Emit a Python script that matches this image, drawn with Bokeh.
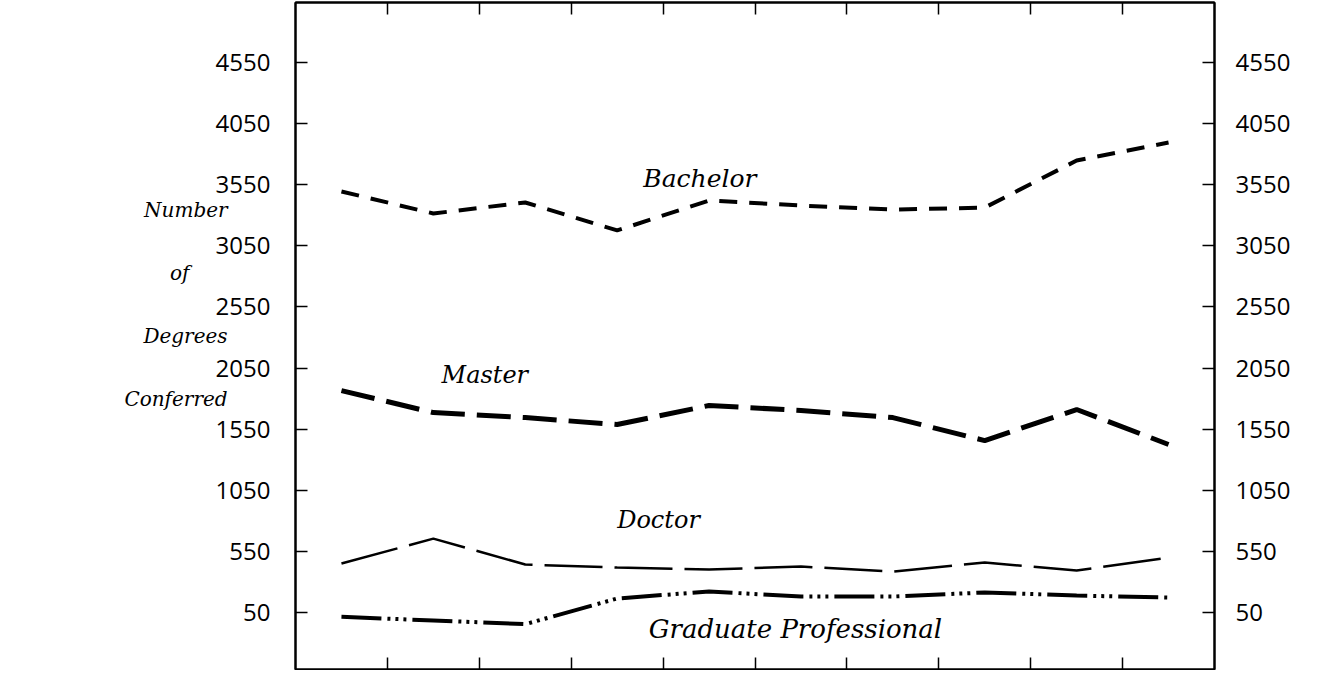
from bokeh.plotting import figure
from bokeh.models import LinearAxis, FixedTicker, Range1d
from bokeh.embed import file_html
from bokeh.resources import INLINE
from bokeh.core.properties import value

# ---- data ----
periods = list(range(10))
bachelor = [3495, 3315, 3405, 3176, 3421, 3380, 3347, 3363, 3748, 3895]
master = [1866, 1686, 1645, 1588, 1744, 1703, 1645, 1457, 1711, 1425]
doctor = [451, 655, 443, 418, 402, 426, 385, 459, 394, 500]
grad_prof = [15, -15, -45, 165, 222, 181, 181, 214, 189, 173]
y_ticks = [50, 550, 1050, 1550, 2050, 2550, 3050, 3550, 4050, 4550]
x_ticks = [1, 2, 3, 4, 5, 6, 7, 8, 9]
series_names = ["Bachelor", "Master", "Doctor", "Graduate Professional"]
y_title = ["Number", "of" + "\u00a0" * 6, "Degrees", "Conferred"]

xs = [i + 0.5 for i in periods]

p = figure(width=1304, height=670, x_range=Range1d(0, 10), y_range=Range1d(-416, 5041),
           output_backend="svg", toolbar_location=None,
           min_border_left=295, min_border_right=90, min_border_top=2, min_border_bottom=1)
p.xgrid.visible = False
p.ygrid.visible = False
p.outline_line_color = "black"
p.outline_line_width = 2
p.background_fill_color = "white"
p.border_fill_color = "white"

TICK_FONT = "Open Sans"

def style_y(ax, standoff):
    ax.ticker = FixedTicker(ticks=y_ticks)
    ax.major_tick_in = 12
    ax.major_tick_out = 0
    ax.minor_tick_in = 0
    ax.minor_tick_out = 0
    ax.axis_line_width = 2
    ax.axis_line_color = "black"
    ax.major_tick_line_width = 1.5
    ax.major_label_standoff = standoff
    ax.major_label_text_font = TICK_FONT
    ax.major_label_text_font_size = "24px"
    ax.major_label_text_color = "black"

def style_x(ax):
    ax.ticker = FixedTicker(ticks=x_ticks)
    ax.major_tick_in = 12
    ax.major_tick_out = 0
    ax.minor_tick_in = 0
    ax.minor_tick_out = 0
    ax.axis_line_width = 2
    ax.axis_line_color = "black"
    ax.major_tick_line_width = 1.5
    ax.major_label_standoff = 0
    ax.major_label_text_font_size = "0px"
    ax.major_label_text_color = None

left = p.yaxis[0]
style_y(left, 25)
left.axis_label = "\n".join(y_title) + "\n\u00a0"
left.axis_label_orientation = "horizontal"
left.axis_label_standoff = -15
left.axis_label_text_font = "DejaVu Serif"
left.axis_label_text_font_style = "italic"
left.axis_label_text_font_size = "20px"
left.axis_label_text_line_height = 2.62
left.axis_label_text_color = "black"

style_x(p.xaxis[0])

right = LinearAxis()
style_y(right, 21)
p.add_layout(right, "right")

top = LinearAxis()
style_x(top)
p.add_layout(top, "above")

# ---- series ----
p.line(xs, bachelor, line_color="black", line_width=4, line_dash="18 12")
p.line(xs, master, line_color="black", line_width=5, line_dash="34 12")
p.line(xs, doctor, line_color="black", line_width=2.5, line_dash="58 12")
p.line(xs, grad_prof, line_color="black", line_width=4, line_dash="40 6 3 5 3 5 3 6")

# ---- series labels ----
label_specs = [
    (series_names[0], 4.40, 3601, 25),
    (series_names[1], 2.06, 1995, 24),
    (series_names[2], 3.95, 811, 24),
    (series_names[3], 5.44, -85, 26),
]
for name, lx, ly, fs in label_specs:
    p.text(x=[lx], y=[ly], text=[name], text_font=value("DejaVu Serif"), text_font_style="italic",
           text_font_size=f"{fs}px", text_align="center", text_baseline="middle",
           text_color="black")

open("out.html", "w").write(file_html(p, INLINE))
